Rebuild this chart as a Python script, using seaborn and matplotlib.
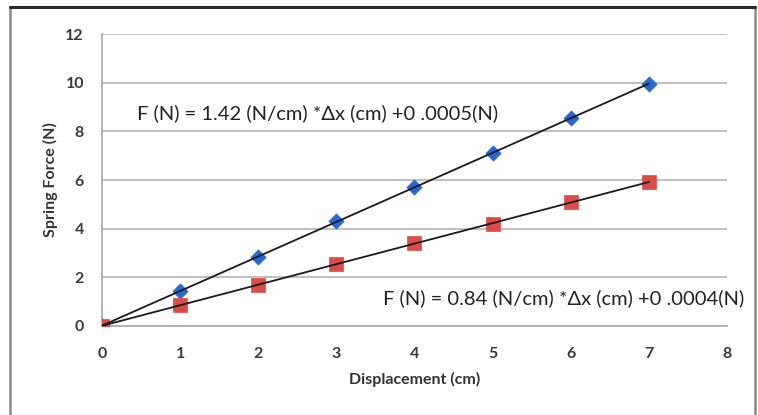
import numpy as np
import pandas as pd
import matplotlib
matplotlib.use("Agg")
import matplotlib.pyplot as plt
import seaborn as sns
from matplotlib.patches import Rectangle
from matplotlib.lines import Line2D

# data
displacement = [0, 1, 2, 3, 4, 5, 6, 7]
force_spring1 = [0, 1.45, 2.85, 4.3, 5.7, 7.1, 8.55, 9.95]
force_spring2 = [0, 0.85, 1.7, 2.55, 3.4, 4.2, 5.1, 5.9]
eq1 = "F (N) = 1.42 (N/cm) *\u0394x (cm) +0 .0005(N)"
eq2 = "F (N) = 0.84 (N/cm) *\u0394x (cm) +0 .0004(N)"

df = pd.DataFrame({"x": displacement, "s1": force_spring1, "s2": force_spring2})

sns.set_style("white")
plt.rcParams['font.family'] = ['Lato', 'DejaVu Sans']

fig = plt.figure(figsize=(7.58, 4.15), dpi=100)
ax = fig.add_axes([0.1346, 0.2145, 0.8244, 0.7035])

# outer chart frame (bottom edge runs off the image)
fig.patches.append(Rectangle((0.0135, -0.05), 0.9830, 1.032, transform=fig.transFigure,
                             fill=False, edgecolor="#8a8a8a", linewidth=1.8))
fig.lines.append(Line2D([0.0135, 0.9965], [0.982, 0.982], transform=fig.transFigure,
                        color="#2a2a2a", linewidth=2.2))

sns.scatterplot(data=df, x="x", y="s1", marker="D", s=60, color="#2468d6",
                edgecolor="#2468d6", linewidth=0.5, ax=ax, zorder=3)
sns.scatterplot(data=df, x="x", y="s2", marker="s", s=95, color="#dc4c46",
                edgecolor="#dc4c46", linewidth=0.5, ax=ax, zorder=3)
sns.regplot(data=df, x="x", y="s1", scatter=False, ci=None, truncate=True,
            line_kws={"color": "#1a1a1a", "linewidth": 1.3, "zorder": 4}, ax=ax)
sns.regplot(data=df, x="x", y="s2", scatter=False, ci=None, truncate=True,
            line_kws={"color": "#1a1a1a", "linewidth": 1.3, "zorder": 4}, ax=ax)

ax.set_xlim(0, 8)
ax.set_ylim(0, 12)
ax.set_xticks(range(0, 9))
ax.set_yticks(range(0, 13, 2))
ax.yaxis.grid(True, color="#b5b5b5", linewidth=1.2)
ax.set_axisbelow(True)
for side in ["top", "right"]:
    ax.spines[side].set_visible(False)
for side in ["left", "bottom"]:
    ax.spines[side].set_color("#a8a8a8")
    ax.spines[side].set_linewidth(1.2)
ax.tick_params(axis="both", which="major", length=5, width=1.2, color="#a8a8a8",
               labelsize=11.5, labelcolor="#3a3a3a", direction="out")
ax.tick_params(axis="x", pad=10)
ax.tick_params(axis="y", pad=8)
for lab in ax.get_xticklabels() + ax.get_yticklabels():
    lab.set_fontweight("bold")

ax.set_xlabel("Displacement (cm)", fontsize=11.5, fontweight="bold", color="#333333", labelpad=8)
ax.set_ylabel("Spring Force (N)", fontsize=11.5, fontweight="bold", color="#333333", labelpad=5)

ax.text(0.45, 8.75, eq1, fontsize=14.5, color="#222222", va="center", ha="left")
ax.text(3.6, 1.15, eq2, fontsize=14.5, color="#222222", va="center", ha="left")

plt.savefig("out.png", dpi=100)
plt.close()
